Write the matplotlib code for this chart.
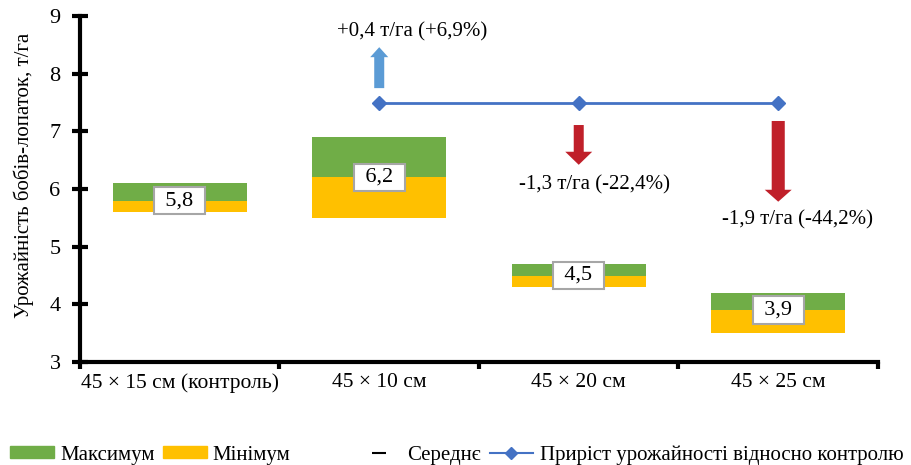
import matplotlib.pyplot as plt
import numpy as np
from matplotlib.lines import Line2D
from matplotlib.patches import Patch, FancyArrowPatch

plt.rcParams['font.family'] = ['Liberation Serif', 'DejaVu Serif']

categories = ["45 × 15 см (контроль)", "45 × 10 см", "45 × 20 см", "45 × 25 см"]
max_vals = [6.1, 6.9, 4.7, 4.2]
mean_vals = [5.8, 6.2, 4.5, 3.9]
min_vals = [5.6, 5.5, 4.3, 3.5]
mean_labels = ["5,8", "6,2", "4,5", "3,9"]

# line showing change vs control (drawn at fixed height)
gain_idx = [1, 2, 3]
gain_level = [7.5, 7.5, 7.5]
gain_text = ["+0,4 т/га (+6,9%)", "-1,3 т/га (-22,4%)", "-1,9 т/га (-44,2%)"]

green = "#70AD47"
yellow = "#FFC000"
blue = "#4472C4"
fs = 15.5

fig = plt.figure(figsize=(9.12, 4.65), dpi=100)
ax = fig.add_axes([0.0877, 0.2215, 0.875, 0.744])

x = np.arange(len(categories))
mx = np.array(max_vals)
mn = np.array(min_vals)
me = np.array(mean_vals)

ax.bar(x, mx - me, bottom=me, width=0.67, color=green)
ax.bar(x, me - mn, bottom=mn, width=0.67, color=yellow)

for i in range(len(x)):
    ax.text(x[i], me[i], "\u2004" + mean_labels[i] + "\u2004", ha="center", va="center",
            fontsize=16, bbox=dict(boxstyle="square,pad=0.2", fc="white", ec="#A6A6A6", lw=1.5))

ax.plot(gain_idx, gain_level, "-", color=blue, lw=2, marker="D", markersize=7)

# arrows: (x, y_start, y_end, color, tail, head_w, head_l) in points
arrows = [
    (1, 7.75, 8.46, "#5B9BD5", 7.2, 13, 7.2),
    (2, 7.11, 6.42, "#C0202A", 7.2, 19.4, 9.4),
    (3, 7.18, 5.78, "#C0202A", 9.4, 19.4, 8.6),
]
for xa, y0, y1, c, tw, hw, hl in arrows:
    style = "simple,head_width=%g,head_length=%g,tail_width=%g" % (hw, hl, tw)
    ax.add_patch(FancyArrowPatch((xa, y0), (xa, y1), arrowstyle=style, mutation_scale=1,
                                 shrinkA=0, shrinkB=0, color=c, lw=0))

ax.text(1.164, 8.72, gain_text[0], ha="center", va="center", fontsize=15)
ax.text(2.08, 6.07, gain_text[1], ha="center", va="center", fontsize=15)
ax.text(3.096, 5.46, gain_text[2], ha="center", va="center", fontsize=15)

ax.set_xlim(-0.5, 3.5)
ax.set_ylim(3, 9)
ax.set_xticks(np.arange(-0.5, 4.0, 1.0))
ax.set_xticklabels([])
ax.set_xticks(x, minor=True)
ax.set_xticklabels(categories, minor=True, fontsize=fs)
ax.tick_params(axis="x", which="minor", length=0, pad=8)
ax.tick_params(axis="x", which="major", length=5, width=3, direction="out")
ax.set_yticks(range(3, 10))
ax.tick_params(axis="y", length=12, width=3, direction="inout", labelsize=16, pad=8)

for s in ["top", "right"]:
    ax.spines[s].set_visible(False)
for s in ["left", "bottom"]:
    ax.spines[s].set_linewidth(3)

ax.set_ylabel("Урожайність бобів-лопаток, т/га", fontsize=15)
ax.yaxis.set_label_coords(-0.058, 0.54)

h1 = [Patch(color=green), Patch(color=yellow)]
l1 = ["Максимум", "Мінімум"]
h2 = [Line2D([], [], color="black", marker="_", linestyle="none", markersize=10, markeredgewidth=1.5),
      Line2D([], [], color=blue, marker="D", markersize=6, lw=1.5)]
l2 = ["Середнє", "Приріст урожайності відносно контролю"]
leg_kw = dict(ncol=2, frameon=False, fontsize=15, handlelength=2.1, handleheight=0.5,
              handletextpad=0.3, columnspacing=0.4, borderpad=0, borderaxespad=0,
              loc="center left")
fig.legend(h1, l1, bbox_to_anchor=(0.011, 0.0215), **leg_kw)
fig.legend(h2, l2, bbox_to_anchor=(0.392, 0.0215), **leg_kw)

fig.savefig("out.png", dpi=100)
